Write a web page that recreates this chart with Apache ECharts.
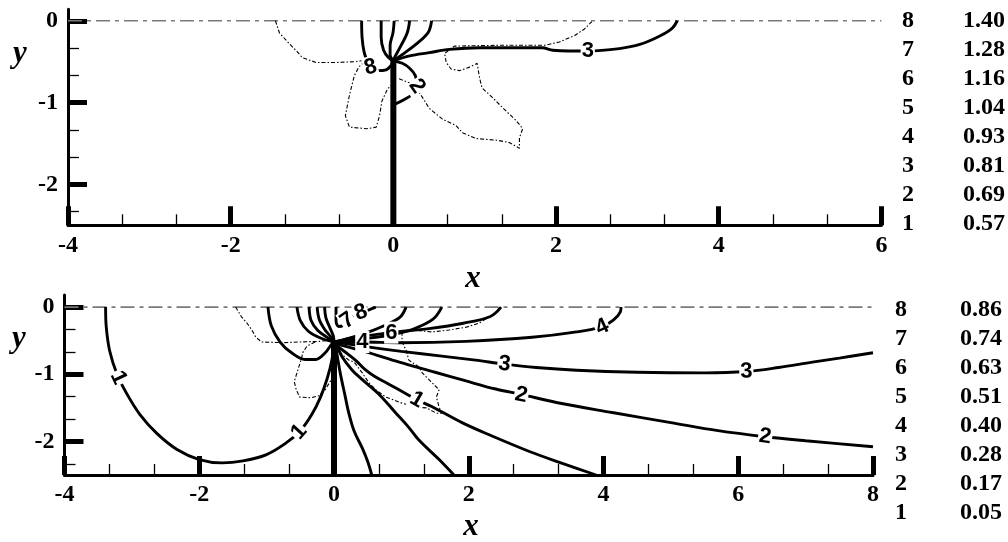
<!DOCTYPE html>
<html><head><meta charset="utf-8">
<script src="https://cdn.jsdelivr.net/npm/echarts@6/dist/echarts.min.js"></script>
<style>html,body{margin:0;padding:0;background:#fff}#c{width:1008px;height:542px}</style>
</head><body><div id="c"></div>
<script>
// ---------- legend (level tables) ----------
const levelNumbers = ['8','7','6','5','4','3','2','1'];
const topLevelValues = ['1.40','1.28','1.16','1.04','0.93','0.81','0.69','0.57'];
const bottomLevelValues = ['0.86','0.74','0.63','0.51','0.40','0.28','0.17','0.05'];

// ---------- axes ----------
const yMajorTicks = [-2, -1, 0];
const yMinorTicks = [-2.3333, -1.6667, -1.3333, -0.6667, -0.3333];

// ---------- common ----------
const freeSurfaceTop = [[-4, 0], [6, 0]];
const freeSurfaceBottom = [[-4, 0], [8, 0]];
const plateTop = [[0, -0.48], [0, -2.5]];
const plateBottom = [[0, -0.5], [0, -2.5]];

// ---------- top panel contours ----------
const topC8 = [[-0.39,0],[-0.385,-0.2],[-0.36,-0.38],[-0.32,-0.5],[-0.28,-0.58],[-0.19,-0.61],[-0.09,-0.6],[-0.03,-0.55],[0,-0.49]];
const topL1 = [[-0.15,0],[-0.15,-0.2],[-0.12,-0.36],[-0.06,-0.45],[0,-0.49]];
const topL2 = [[0.01,0],[-0.005,-0.15],[-0.04,-0.3],[-0.04,-0.42],[0,-0.49]];
const topL3 = [[0.2,0],[0.17,-0.15],[0.09,-0.31],[0.02,-0.44],[0,-0.49]];
const topL4 = [[0.47,0],[0.43,-0.14],[0.3,-0.27],[0.1,-0.42],[0,-0.49]];
const topC3 = [[0,-0.49],[0.2,-0.43],[0.44,-0.39],[0.69,-0.35],[1.06,-0.33],[1.5,-0.33],[1.83,-0.33],[1.96,-0.36],[2.16,-0.37],[2.39,-0.37],[2.78,-0.34],[3.03,-0.29],[3.27,-0.19],[3.43,-0.09],[3.49,0]];
const topC2 = [[0,-0.49],[0.11,-0.52],[0.2,-0.58],[0.27,-0.67],[0.29,-0.79],[0.23,-0.9],[0.14,-0.96],[0.04,-1.01],[0,-1.02]];
const topContours = [topC8, topL1, topL2, topL3, topL4, topC3, topC2];

const topDashA = [[-1.45,0],[-1.4,-0.15],[-1.28,-0.28],[-1.19,-0.37],[-1.12,-0.45],[-0.95,-0.51],[-0.7,-0.51],[-0.48,-0.5],[-0.33,-0.48],[-0.42,-0.56],[-0.48,-0.67],[-0.54,-0.91],[-0.59,-1.16],[-0.54,-1.3],[-0.33,-1.32],[-0.21,-1.3],[-0.17,-1.16],[-0.14,-0.98],[-0.07,-0.83],[-0.02,-0.79]];
const topDashB = [[0.07,-0.71],[0.2,-0.76],[0.28,-0.82],[0.36,-0.94],[0.44,-1.07],[0.6,-1.2],[0.77,-1.28],[0.85,-1.37],[1.02,-1.44],[1.27,-1.46],[1.43,-1.49],[1.55,-1.56],[1.55,-1.43],[1.59,-1.32],[1.51,-1.22],[1.34,-1.06],[1.22,-0.94],[1.09,-0.82],[1.06,-0.7],[1.03,-0.52],[0.93,-0.57],[0.81,-0.61],[0.71,-0.59],[0.65,-0.51],[0.63,-0.4],[0.75,-0.31],[1.3,-0.3],[1.86,-0.3],[2.04,-0.26],[2.23,-0.18],[2.35,-0.1],[2.44,-0.01]];
const topDashes = [topDashA, topDashB];

const topLabels = [[-0.28,-0.57,'8'],[0.29,-0.8,'2'],[2.39,-0.37,'3']];
const topLabelAngles = [15, -55, 0];

// ---------- bottom panel contours ----------
const botC1Loop = [[-3.39,0],[-3.38,-0.3],[-3.33,-0.65],[-3.22,-1.0],[-3.07,-1.3],[-2.88,-1.6],[-2.63,-1.88],[-2.33,-2.12],[-2.0,-2.27],[-1.66,-2.32],[-1.35,-2.29],[-1.01,-2.2],[-0.72,-2.03],[-0.5,-1.84],[-0.33,-1.6],[-0.2,-1.34],[-0.1,-1.06],[-0.03,-0.78],[0,-0.53]];
const botU = [[-0.98,0],[-0.93,-0.28],[-0.8,-0.52],[-0.63,-0.68],[-0.43,-0.78],[-0.27,-0.78],[-0.13,-0.68],[-0.04,-0.56],[0,-0.52]];
const botL1 = [[-0.55,0],[-0.5,-0.2],[-0.38,-0.36],[-0.2,-0.46],[0,-0.52]];
const botL2 = [[-0.37,0],[-0.34,-0.2],[-0.24,-0.35],[-0.1,-0.45],[0,-0.52]];
const botL3 = [[-0.25,0],[-0.22,-0.18],[-0.14,-0.33],[-0.05,-0.44],[0,-0.52]];
const botL4 = [[-0.14,0],[-0.12,-0.16],[-0.06,-0.31],[-0.01,-0.43],[0,-0.52]];
const botC7 = [[0.03,0],[0.03,-0.2],[0.07,-0.29],[0.14,-0.27],[0.22,-0.19],[0.28,-0.13]];
const botC8 = [[0.33,-0.1],[0.4,-0.08],[0.52,-0.04],[0.62,0]];
const botF1 = [[1.07,0],[0.98,-0.15],[0.76,-0.27],[0.46,-0.39],[0.16,-0.48],[0,-0.52]];
const botF2 = [[1.6,0],[1.47,-0.18],[1.17,-0.33],[0.82,-0.42],[0.37,-0.48],[0,-0.52]];
const botC6 = [[2.48,0],[2.32,-0.14],[1.92,-0.24],[1.41,-0.32],[0.85,-0.38],[0.33,-0.45],[0,-0.52]];
const botC4 = [[0,-0.52],[0.42,-0.52],[0.97,-0.53],[1.96,-0.51],[2.94,-0.45],[3.6,-0.37],[3.98,-0.29],[4.15,-0.19],[4.25,-0.07],[4.26,0]];
const botC3 = [[0,-0.52],[0.3,-0.56],[0.55,-0.6],[1.0,-0.66],[1.6,-0.73],[2.1,-0.79],[2.53,-0.85],[3.0,-0.9],[3.6,-0.94],[4.5,-0.97],[5.5,-0.98],[6.12,-0.96],[6.6,-0.9],[7.1,-0.82],[7.5,-0.76],[8,-0.68]];
const botC2 = [[0,-0.54],[0.45,-0.66],[0.97,-0.82],[1.5,-0.97],[1.96,-1.1],[2.4,-1.22],[2.78,-1.3],[3.3,-1.42],[4.13,-1.57],[5.0,-1.72],[5.7,-1.84],[6.4,-1.93],[7.0,-1.99],[8.0,-2.08]];
const botC1Right = [[0,-0.55],[0.1,-0.62],[0.22,-0.71],[0.33,-0.8],[0.45,-0.92],[0.6,-1.03],[0.8,-1.14],[1.05,-1.28],[1.23,-1.38],[1.45,-1.48],[1.9,-1.72],[2.3,-1.9],[2.9,-2.15],[3.4,-2.33],[3.89,-2.5]];
const botLa = [[0.02,-0.55],[0.06,-0.8],[0.1,-1.02],[0.16,-1.3],[0.22,-1.58],[0.3,-1.85],[0.42,-2.1],[0.5,-2.3],[0.56,-2.5]];
const botLb = [[0.04,-0.56],[0.12,-0.74],[0.27,-0.94],[0.42,-1.08],[0.67,-1.3],[0.92,-1.58],[1.1,-1.78],[1.26,-1.98],[1.56,-2.27],[1.78,-2.5]];
const botContours = [botC1Loop, botU, botL1, botL2, botL3, botL4, botC7, botC8, botF1, botF2, botC6, botC4, botC3, botC2, botC1Right, botLa, botLb];

const botDashA = [[-1.46,0],[-1.37,-0.15],[-1.29,-0.24],[-1.22,-0.34],[-1.16,-0.45],[-1.07,-0.52],[-0.77,-0.53],[-0.52,-0.52],[-0.22,-0.51],[-0.03,-0.49]];
const botDashB = [[-0.28,-0.52],[-0.4,-0.58],[-0.46,-0.67],[-0.49,-0.79],[-0.55,-0.98],[-0.59,-1.11],[-0.56,-1.23],[-0.51,-1.34],[-0.34,-1.35],[-0.22,-1.32],[-0.13,-1.23],[-0.04,-1.08]];
const botDashC = [[0.08,-0.66],[0.15,-0.73],[0.22,-0.79],[0.3,-0.82],[0.42,-0.98],[0.52,-1.13],[0.62,-1.23],[0.77,-1.34],[1.01,-1.43],[1.22,-1.49],[1.37,-1.5],[1.52,-1.58],[1.6,-1.58],[1.56,-1.49],[1.52,-1.34],[1.56,-1.23],[1.46,-1.13],[1.31,-0.98],[1.26,-0.89],[1.11,-0.79],[1.07,-0.64],[1.01,-0.52],[1.01,-0.39],[1.16,-0.34],[1.46,-0.37],[1.71,-0.34],[1.96,-0.3],[2.15,-0.24],[2.3,-0.15],[2.41,-0.07],[2.45,-0.01]];
const botDashes = [botDashA, botDashB, botDashC];

const botLabels = [[-3.2,-1.05,'1'],[-0.52,-1.86,'1'],[1.23,-1.38,'1'],[2.78,-1.31,'2'],[6.4,-1.93,'2'],[2.53,-0.85,'3'],[6.12,-0.96,'3'],[0.42,-0.52,'4'],[3.98,-0.3,'4'],[0.85,-0.38,'6'],[0.2,-0.2,'7'],[0.4,-0.08,'8']];
const botLabelAngles = [-65, 48, -30, -12, -8, -6, 2, 0, 25, 0, 35, 20];

// ---------- build chart ----------
const chart = echarts.init(document.getElementById('c'), null, {renderer: 'canvas'});
const tickFont = {fontFamily: '"Liberation Serif", "Times New Roman", serif', fontSize: 24, fontWeight: 'bold', color: '#000'};

function xAxisDef(gi, max) {
  return {
    type: 'value', gridIndex: gi, min: -4, max: max, interval: 2,
    axisLine: {show: true, onZero: false, lineStyle: {color: '#000', width: 3}},
    axisTick: {show: true, inside: true, length: 19, lineStyle: {color: '#000', width: 5}},
    minorTick: {show: true, splitNumber: 3, length: 11, lineStyle: {color: '#000', width: 1.3}},
    axisLabel: Object.assign({margin: 8}, tickFont),
    splitLine: {show: false}, minorSplitLine: {show: false}
  };
}
function yAxisMain(gi, max) {
  return {
    type: 'value', gridIndex: gi, min: -2.5, max: max, position: 'left',
    axisLine: {show: true, onZero: false, lineStyle: {color: '#000', width: 3}},
    axisTick: {show: true, inside: true, length: 19, customValues: yMajorTicks, lineStyle: {color: '#000', width: 5}},
    axisLabel: Object.assign({margin: 10, customValues: yMajorTicks}, tickFont),
    splitLine: {show: false}
  };
}
function yAxisMinor(gi, max) {
  return {
    type: 'value', gridIndex: gi, min: -2.5, max: max, position: 'left', offset: 0,
    axisLine: {show: false, onZero: false},
    axisTick: {show: true, inside: true, length: 11, customValues: yMinorTicks, lineStyle: {color: '#000', width: 1.3}},
    axisLabel: {show: false},
    splitLine: {show: false}
  };
}

const series = [];
function addLine(data, xi, yi, style, smooth, z) {
  series.push({type: 'line', xAxisIndex: xi, yAxisIndex: yi, data: data, showSymbol: false, symbol: 'none',
    smooth: smooth, lineStyle: style, z: z, silent: true, animation: false});
}
const surfStyle = {color: '#7a7a7a', width: 1.6, type: [14, 5, 4, 5]};
const contourStyle = {color: '#000', width: 2.9};
const dashStyle = {color: '#000', width: 1.1, type: [4, 2, 1.5, 2]};
const plateStyle = {color: '#000', width: 6, cap: 'butt'};

// top panel: xAxis 0, yAxis 0
addLine(freeSurfaceTop, 0, 0, surfStyle, false, 1);
topDashes.forEach(d => addLine(d, 0, 0, dashStyle, false, 2));
topContours.forEach(d => addLine(d, 0, 0, contourStyle, 0.35, 3));
addLine(plateTop, 0, 0, plateStyle, false, 4);
// bottom panel: xAxis 1, yAxis 2
addLine(freeSurfaceBottom, 1, 2, surfStyle, false, 1);
botDashes.forEach(d => addLine(d, 1, 2, dashStyle, false, 2));
botContours.forEach(d => addLine(d, 1, 2, contourStyle, 0.35, 3));
addLine(plateBottom, 1, 2, plateStyle, false, 4);

function addLabels(list, angles, xi, yi) {
  series.push({
    type: 'scatter', xAxisIndex: xi, yAxisIndex: yi, symbol: 'circle', symbolSize: 1,
    itemStyle: {color: '#fff', opacity: 1}, z: 6, silent: true, animation: false,
    label: {show: true, position: 'inside', formatter: p => p.name, opacity: 1,
      fontFamily: '"Liberation Sans", Arial, sans-serif', fontSize: 22, fontWeight: 'bold', color: '#000',
      textBorderWidth: 0, textBorderColor: 'transparent', textShadowBlur: 0,
      backgroundColor: '#fff', padding: [0, 1]},
    emphasis: {disabled: true},
    data: list.map((l, i) => ({value: [l[0], l[1]], name: l[2], label: {rotate: angles[i]}}))
  });
}
addLabels(topLabels, topLabelAngles, 0, 0);
addLabels(botLabels, botLabelAngles, 1, 2);

// legend text tables and axis names
const legendFont = 'bold 24px "Liberation Serif", "Times New Roman", serif';
const nameFont = 'italic bold 31px "Liberation Serif", "Times New Roman", serif';
const graphics = [];
function txt(t, x, y, font, align) {
  graphics.push({type: 'text', silent: true, style: {text: t, x: x, y: y, font: font, fill: '#000',
    align: align, textAlign: align, verticalAlign: 'middle', textVerticalAlign: 'middle'}});
}
levelNumbers.forEach((n, i) => {
  txt(n, 908, 21 + i * 29, legendFont, 'center');
  txt(topLevelValues[i], 963, 21 + i * 29, legendFont, 'left');
  txt(n, 901, 310 + i * 29, legendFont, 'center');
  txt(bottomLevelValues[i], 960, 310 + i * 29, legendFont, 'left');
});
txt('x', 473, 279, nameFont, 'center');
txt('x', 471, 527, nameFont, 'center');
txt('y', 20, 54, nameFont, 'center');
txt('y', 19, 339, nameFont, 'center');

chart.setOption({
  animation: false,
  backgroundColor: '#fff',
  grid: [
    {left: 68, top: 9.3, width: 813.4, height: 216, containLabel: false},
    {left: 64.5, top: 295, width: 808.5, height: 180, containLabel: false}
  ],
  xAxis: [xAxisDef(0, 6), xAxisDef(1, 8)],
  yAxis: [yAxisMain(0, 0.14), yAxisMinor(0, 0.14), yAxisMain(1, 0.18), yAxisMinor(1, 0.18)],
  series: series,
  graphic: graphics
});
</script>
</body></html>
